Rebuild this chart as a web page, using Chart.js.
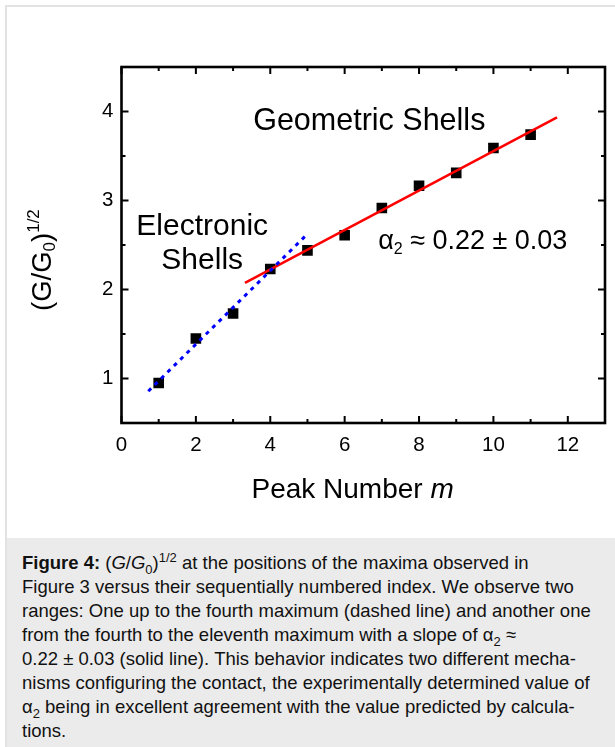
<!DOCTYPE html>
<html>
<head>
<meta charset="utf-8">
<script src="https://cdn.jsdelivr.net/npm/chart.js@4/dist/chart.umd.min.js"></script>
<style>
  html, body { margin: 0; padding: 0; background: #fff; width: 615px; height: 747px; overflow: hidden; }
  #frame { position: absolute; left: 5px; top: 5px; width: 700px; height: 800px;
           border-left: 2px solid #e2e2e2; border-top: 2px solid #e2e2e2; }
  #chart { position: absolute; left: 0; top: 0; }
  #caption { position: absolute; left: 7px; top: 538px; width: 640px; height: 220px;
             background: #ebebeb; box-sizing: border-box; padding: 13px 0 0 15px;
             font-family: "Liberation Sans", Arial, Helvetica, sans-serif;
             font-size: 18.5px; line-height: 24px; color: #111; white-space: nowrap; }
  #caption sub, #caption sup { font-size: 13px; line-height: 0; }
</style>
</head>
<body>
<div id="frame"></div>
<canvas id="chart" width="615" height="537"></canvas>
<div id="caption">
  <b>Figure 4:</b> (<i>G</i>/<i>G</i><sub>0</sub>)<sup>1/2</sup> at the positions of the maxima observed in<br>
  Figure 3 versus their sequentially numbered index. We observe two<br>
  ranges: One up to the fourth maximum (dashed line) and another one<br>
  from the fourth to the eleventh maximum with a slope of α<sub>2</sub> ≈<br>
  0.22 ± 0.03 (solid line). This behavior indicates two different mecha-<br>
  nisms configuring the contact, the experimentally determined value of<br>
  α<sub>2</sub> being in excellent agreement with the value predicted by calcula-<br>
  tions.
</div>
<script>
// Peak index m and (G/G0)^1/2 at each maximum
const peakNumber = [1, 2, 3, 4, 5, 6, 7, 8, 9, 10, 11];
const sqrtConductance = [0.95, 1.45, 1.73, 2.23, 2.44, 2.61, 2.915, 3.165, 3.31, 3.59, 3.74];

// Linear fits: electronic shells (dashed) and geometric shells (solid)
const electronicFitX = [0.72, 4.99];
const electronicFitY = [0.857, 2.62];
const geometricFitX = [3.32, 11.71];
const geometricFitY = [2.074, 3.933];

// Axis ticks
const xTickValues = [0, 2, 4, 6, 8, 10, 12];
const xMinorValues = [1, 3, 5, 7, 9, 11];
const yTickValues = [1, 2, 3, 4];
const yMinorValues = [1.5, 2.5, 3.5];

const FONT = '"Liberation Sans", Arial, Helvetica, sans-serif';

const toPoints = (xs, ys) => xs.map((x, i) => ({ x: x, y: ys[i] }));

// Draw a sequence of text runs (different fonts / baseline shifts) side by side
function drawRuns(ctx, runs, x, y, align) {
  let total = 0;
  runs.forEach(r => { ctx.font = r.font; total += ctx.measureText(r.text).width; });
  let cx = align === 'center' ? x - total / 2 : x;
  ctx.textAlign = 'left';
  ctx.textBaseline = 'alphabetic';
  runs.forEach(r => {
    ctx.font = r.font;
    ctx.fillText(r.text, cx, y + (r.dy || 0));
    cx += ctx.measureText(r.text).width;
  });
}

// Closed frame with inward tick marks on all four sides
const frameTicks = {
  id: 'frameTicks',
  afterDraw(chart) {
    const { ctx, chartArea: a, scales: { x, y } } = chart;
    ctx.save();
    ctx.strokeStyle = '#000';
    ctx.lineWidth = 2;
    const tick = (px, len, vertical) => {
      ctx.beginPath();
      if (vertical) {
        ctx.moveTo(px, a.bottom); ctx.lineTo(px, a.bottom - len);
        ctx.moveTo(px, a.top); ctx.lineTo(px, a.top + len);
      } else {
        ctx.moveTo(a.left, px); ctx.lineTo(a.left + len, px);
        ctx.moveTo(a.right, px); ctx.lineTo(a.right - len, px);
      }
      ctx.stroke();
    };
    xTickValues.forEach(v => tick(x.getPixelForValue(v), 7, true));
    xMinorValues.forEach(v => tick(x.getPixelForValue(v), 4, true));
    yTickValues.forEach(v => tick(y.getPixelForValue(v), 7, false));
    yMinorValues.forEach(v => tick(y.getPixelForValue(v), 4, false));
    ctx.lineWidth = 2.6;
    ctx.strokeRect(a.left, a.top, a.right - a.left, a.bottom - a.top);
    ctx.restore();
  }
};

// In-plot labels and the axis titles
const labels = {
  id: 'labels',
  afterDraw(chart) {
    const { ctx, chartArea: a, scales: { x, y } } = chart;
    ctx.save();
    ctx.fillStyle = '#000';
    drawRuns(ctx, [{ text: 'Geometric Shells', font: '30.5px ' + FONT }],
      x.getPixelForValue(3.54), y.getPixelForValue(3.787), 'left');
    drawRuns(ctx, [{ text: 'Electronic', font: '30px ' + FONT }],
      x.getPixelForValue(2.17), y.getPixelForValue(2.61), 'center');
    drawRuns(ctx, [{ text: 'Shells', font: '30px ' + FONT }],
      x.getPixelForValue(2.17), y.getPixelForValue(2.23), 'center');
    drawRuns(ctx, [
      { text: 'α', font: '27px ' + FONT },
      { text: '2', font: '16px ' + FONT, dy: 5 },
      { text: ' ≈ 0.22 ± 0.03', font: '27px ' + FONT }
    ], x.getPixelForValue(6.9), y.getPixelForValue(2.46), 'left');

    // x-axis title
    drawRuns(ctx, [
      { text: 'Peak Number ', font: '28px ' + FONT },
      { text: 'm', font: 'italic 28px ' + FONT }
    ], a.left + (a.right - a.left) * 0.478, 498, 'center');

    // y-axis title, rotated
    ctx.translate(51, 311);
    ctx.rotate(-Math.PI / 2);
    drawRuns(ctx, [
      { text: '(G/G', font: '27.5px ' + FONT },
      { text: '0', font: '17px ' + FONT, dy: 4 },
      { text: ')', font: '27.5px ' + FONT },
      { text: '1/2', font: '17px ' + FONT, dy: -12 }
    ], 0, 0, 'left');
    ctx.restore();
  }
};

new Chart(document.getElementById('chart'), {
  type: 'scatter',
  data: {
    datasets: [
      {
        data: toPoints(peakNumber, sqrtConductance),
        pointStyle: 'rect',
        pointRadius: 7.5,
        pointBorderWidth: 0,
        backgroundColor: '#000',
        borderColor: '#000',
        showLine: false,
        order: 1
      },
      {
        data: toPoints(electronicFitX, electronicFitY),
        showLine: true,
        borderColor: '#0000ff',
        borderWidth: 3,
        borderDash: [4, 5],
        pointRadius: 0,
        order: 0
      },
      {
        data: toPoints(geometricFitX, geometricFitY),
        showLine: true,
        borderColor: '#ff0000',
        borderWidth: 2.5,
        pointRadius: 0,
        order: 0
      }
    ]
  },
  options: {
    responsive: false,
    animation: false,
    events: [],
    layout: { padding: { top: 67, right: 10, left: 0, bottom: 0 } },
    plugins: { legend: { display: false }, tooltip: { enabled: false } },
    scales: {
      x: {
        type: 'linear', min: 0, max: 13,
        afterBuildTicks: s => { s.ticks = xTickValues.map(v => ({ value: v })); },
        afterFit: s => { s.height = 114; },
        grid: { display: false, drawTicks: false },
        border: { display: false },
        ticks: { color: '#000', font: { family: FONT, size: 20.5 }, padding: 10 }
      },
      y: {
        type: 'linear', min: 0.5, max: 4.5,
        afterBuildTicks: s => { s.ticks = yTickValues.map(v => ({ value: v })); },
        afterFit: s => { s.width = 121.5; },
        grid: { display: false, drawTicks: false },
        border: { display: false },
        ticks: { color: '#000', font: { family: FONT, size: 20.5 }, padding: 8 }
      }
    }
  },
  plugins: [frameTicks, labels]
});
</script>
</body>
</html>
